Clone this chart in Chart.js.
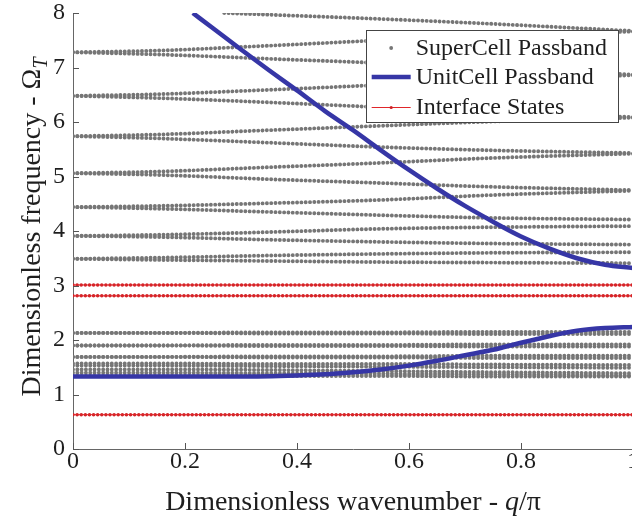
<!DOCTYPE html>
<html>
<head>
<meta charset="utf-8">
<style>
  html, body { margin: 0; padding: 0; background: #fff; overflow: hidden; }
  #wrap { width: 680px; height: 518px; position: relative; }
</style>
<script src="https://cdn.jsdelivr.net/npm/chart.js@4"></script>
</head>
<body>
<div id="wrap"><canvas id="c"></canvas></div>
<script>
// ---- supercell passbands (folded bands, sampled at qGrid) ----
const qGrid = [0, 0.15, 0.35, 0.55, 0.75, 1];

const bandTopQ = [0.27, 0.55, 0.75, 1];
const bandTopW = [8.0, 7.89, 7.80, 7.67];

const bandA_up = [7.28, 7.31, 7.40, 7.50, 7.59, 7.66];
const bandA_dn = [7.28, 7.24, 7.16, 7.08, 6.98, 6.87];
const bandB_up = [6.48, 6.51, 6.59, 6.68, 6.77, 6.86];
const bandB_dn = [6.48, 6.44, 6.36, 6.27, 6.18, 6.09];
const bandC_up = [5.74, 5.77, 5.85, 5.93, 6.01, 6.08];
const bandC_dn = [5.74, 5.70, 5.62, 5.54, 5.48, 5.43];
const bandD_up = [5.06, 5.09, 5.17, 5.25, 5.34, 5.42];
const bandD_dn = [5.06, 5.03, 4.95, 4.88, 4.81, 4.75];
const bandE_up = [4.44, 4.46, 4.51, 4.57, 4.66, 4.74];
const bandE_dn = [4.44, 4.41, 4.35, 4.29, 4.24, 4.21];
const bandF_up = [3.91, 3.93, 3.98, 4.04, 4.07, 4.09];
const bandF_dn = [3.91, 3.89, 3.84, 3.80, 3.77, 3.75];
const bandG_up = [3.49, 3.51, 3.55, 3.58, 3.60, 3.61];
const bandG_dn = [3.49, 3.47, 3.45, 3.43, 3.42, 3.41];

const low1_up = [2.13, 2.13, 2.14, 2.14, 2.15, 2.15];
const low1_dn = [2.13, 2.13, 2.12, 2.12, 2.11, 2.11];
const low2_up = [1.90, 1.90, 1.91, 1.91, 1.92, 1.92];
const low2_dn = [1.90, 1.90, 1.89, 1.89, 1.88, 1.88];
const low3_up = [1.69, 1.69, 1.70, 1.70, 1.71, 1.71];
const low3_dn = [1.69, 1.69, 1.68, 1.68, 1.67, 1.67];
const low4_up = [1.57, 1.57, 1.56, 1.56, 1.55, 1.54];
const low4_dn = [1.53, 1.53, 1.52, 1.51, 1.50, 1.49];
const low5_up = [1.46, 1.46, 1.45, 1.43, 1.41, 1.39];
const low5_dn = [1.40, 1.40, 1.39, 1.38, 1.37, 1.35];
const low6    = [1.34, 1.34, 1.34, 1.34, 1.33, 1.33];

const gridBands = [
  bandA_up, bandA_dn, bandB_up, bandB_dn, bandC_up, bandC_dn, bandD_up, bandD_dn,
  bandE_up, bandE_dn, bandF_up, bandF_dn, bandG_up, bandG_dn,
  low1_up, low1_dn, low2_up, low2_dn, low3_up, low3_dn, low4_up, low4_dn,
  low5_up, low5_dn, low6
];

// ---- unit-cell passband (two branches) ----
const unitLowQ = [0, 0.1, 0.2, 0.3, 0.4, 0.45, 0.5, 0.55, 0.6, 0.65, 0.7, 0.75, 0.8, 0.85, 0.9, 0.95, 1];
const unitLowW = [1.33, 1.33, 1.33, 1.33, 1.35, 1.37, 1.41, 1.46, 1.53, 1.62, 1.72, 1.82, 1.95, 2.07, 2.17, 2.22, 2.24];
const unitHighQ = [0.214, 0.25, 0.3, 0.35, 0.4, 0.45, 0.5, 0.55, 0.6, 0.65, 0.7, 0.75, 0.8, 0.85, 0.9, 0.95, 1];
const unitHighW = [8.0, 7.72, 7.33, 6.95, 6.58, 6.2, 5.85, 5.48, 5.12, 4.78, 4.46, 4.17, 3.9, 3.68, 3.5, 3.38, 3.32];

// ---- interface states (flat) ----
const interfaceQ = [0, 1];
const interfaceLevels = [3.01, 2.81, 0.63];

// ---- axes ----
const xTicks = [0, 0.2, 0.4, 0.6, 0.8, 1];
const xTickLabels = ['0', '0.2', '0.4', '0.6', '0.8', '1'];
const yTicks = [0, 1, 2, 3, 4, 5, 6, 7, 8];
const yTickLabels = ['0', '1', '2', '3', '4', '5', '6', '7', '8'];

const SERIF = '"Liberation Serif", "Times New Roman", serif';
const GRAY = '#767676';
const BLUE = '#3636a6';
const RED = '#e0262a';
const RED_DOT = '#cf2226';

const pts = (qs, ws) => qs.map((q, i) => ({ x: q, y: ws[i] }));

const dotted = (data, label) => ({
  label, data, order: 3,
  borderColor: GRAY, borderWidth: 3.9, borderDash: [0.01, 4.3],
  borderCapStyle: 'round', pointRadius: 0, cubicInterpolationMode: 'monotone',
  fill: false
});

const datasets = [];
datasets.push({
  label: 'UnitCell Passband', data: pts(unitLowQ, unitLowW), order: 0,
  borderColor: BLUE, borderWidth: 4.5, pointRadius: 0, cubicInterpolationMode: 'monotone',
  borderCapStyle: 'butt', fill: false
});
datasets.push({
  label: 'UnitCell Passband', data: pts(unitHighQ, unitHighW), order: 0,
  borderColor: BLUE, borderWidth: 4.5, pointRadius: 0, cubicInterpolationMode: 'monotone',
  borderCapStyle: 'butt', fill: false
});
interfaceLevels.forEach(level => {
  const d = pts(interfaceQ, interfaceQ.map(() => level));
  datasets.push({
    label: 'Interface States', data: d, order: 1,
    borderColor: RED, borderWidth: 1, pointRadius: 0, fill: false
  });
  datasets.push({
    label: 'Interface States', data: d, order: 1,
    borderColor: RED_DOT, borderWidth: 3.5, borderDash: [0.01, 4.1], borderCapStyle: 'round',
    pointRadius: 0, fill: false
  });
});
datasets.push(dotted(pts(bandTopQ, bandTopW), 'SuperCell Passband'));
gridBands.forEach(b => datasets.push(dotted(pts(qGrid, b), 'SuperCell Passband')));

// inward tick marks on both axes
const inwardTicks = {
  id: 'inwardTicks',
  afterDatasetsDraw(chart) {
    const { ctx, chartArea, scales: { x, y } } = chart;
    ctx.save();
    ctx.strokeStyle = '#555';
    ctx.lineWidth = 1;
    xTicks.forEach(v => {
      const px = Math.round(x.getPixelForValue(v)) + 0.5;
      ctx.beginPath(); ctx.moveTo(px, chartArea.bottom); ctx.lineTo(px, chartArea.bottom - 6); ctx.stroke();
    });
    yTicks.forEach(v => {
      const py = Math.round(y.getPixelForValue(v)) + 0.5;
      ctx.beginPath(); ctx.moveTo(chartArea.left, py); ctx.lineTo(chartArea.left + 6, py); ctx.stroke();
    });
    ctx.restore();
  }
};

// draw a run of text pieces with mixed styles
function drawRich(ctx, pieces, cx, cy) {
  const widths = pieces.map(p => { ctx.font = p.font; return ctx.measureText(p.text).width; });
  const total = widths.reduce((a, b) => a + b, 0);
  let xx = cx - total / 2;
  pieces.forEach((p, i) => {
    ctx.font = p.font;
    ctx.fillText(p.text, xx, cy + (p.dy || 0));
    xx += widths[i];
  });
}

// axis titles with italic / subscript parts
const axisTitles = {
  id: 'axisTitles',
  afterDraw(chart) {
    const { ctx, chartArea } = chart;
    ctx.save();
    ctx.fillStyle = '#1e1e1e';
    ctx.textBaseline = 'alphabetic';
    ctx.textAlign = 'left';
    const reg = `28px ${SERIF}`, ital = `italic 28px ${SERIF}`, sub = `italic 20px ${SERIF}`;
    const cx = (chartArea.left + chartArea.right) / 2;
    drawRich(ctx, [
      { text: 'Dimensionless wavenumber - ', font: reg },
      { text: 'q', font: ital },
      { text: '/π', font: reg }
    ], cx, 510);
    ctx.translate(40, 227);
    ctx.rotate(-Math.PI / 2);
    drawRich(ctx, [
      { text: 'Dimensionless frequency - Ω', font: reg },
      { text: 'T', font: sub, dy: 7 }
    ], 0, 0);
    ctx.restore();
  }
};

// boxed legend inside the plot area
const legendBox = {
  id: 'legendBox',
  afterDraw(chart) {
    const { ctx, chartArea } = chart;
    const entries = ['SuperCell Passband', 'UnitCell Passband', 'Interface States'];
    ctx.save();
    ctx.font = `24px ${SERIF}`;
    const textW = Math.max(...entries.map(t => ctx.measureText(t).width));
    const w = 6 + 39 + 5 + textW + 11;
    const h = 92;
    const right = chartArea.right - 15;
    const left = right - w;
    const top = chartArea.top + 17;
    ctx.fillStyle = '#fff';
    ctx.fillRect(left, top, w, h);
    ctx.strokeStyle = '#444';
    ctx.lineWidth = 1;
    ctx.strokeRect(Math.round(left) + 0.5, Math.round(top) + 0.5, Math.round(w), h);
    const rows = [top + 18, top + 47, top + 77];
    const sx0 = left + 6, sx1 = left + 45, sxm = (sx0 + sx1) / 2;
    // supercell marker
    ctx.fillStyle = GRAY;
    ctx.beginPath(); ctx.arc(sxm, rows[0], 1.9, 0, Math.PI * 2); ctx.fill();
    // unitcell line
    ctx.strokeStyle = BLUE; ctx.lineWidth = 4.5;
    ctx.beginPath(); ctx.moveTo(sx0, rows[1]); ctx.lineTo(sx1, rows[1]); ctx.stroke();
    // interface line with marker
    ctx.strokeStyle = RED; ctx.lineWidth = 1;
    ctx.beginPath(); ctx.moveTo(sx0, rows[2] + 0.5); ctx.lineTo(sx1, rows[2] + 0.5); ctx.stroke();
    ctx.fillStyle = RED_DOT;
    ctx.beginPath(); ctx.arc(sxm, rows[2] + 0.5, 1.6, 0, Math.PI * 2); ctx.fill();
    ctx.fillStyle = '#1e1e1e';
    ctx.textBaseline = 'middle';
    ctx.textAlign = 'left';
    entries.forEach((t, i) => ctx.fillText(t, left + 50, rows[i] + 1));
    ctx.restore();
  }
};

new Chart(document.getElementById('c'), {
  type: 'line',
  data: { datasets },
  plugins: [inwardTicks, axisTitles, legendBox],
  options: {
    responsive: true,
    maintainAspectRatio: false,
    animation: false,
    events: [],
    layout: { padding: { left: 0, top: 13, right: 47, bottom: 0 } },
    plugins: { legend: { display: false }, tooltip: { enabled: false } },
    scales: {
      x: {
        type: 'linear', min: 0, max: 1,
        afterBuildTicks: s => { s.ticks = xTicks.map(v => ({ value: v })); },
        afterFit: s => { s.height = 69; s.paddingLeft = 0; s.paddingRight = 0; },
        grid: { display: false, drawTicks: false },
        border: { display: true, color: '#666', width: 1 },
        ticks: {
          padding: 1, color: '#1e1e1e', maxRotation: 0, autoSkip: false,
          font: { family: SERIF, size: 24, lineHeight: 1 },
          callback: (v, i) => xTickLabels[i]
        }
      },
      y: {
        type: 'linear', min: 0, max: 8,
        afterBuildTicks: s => { s.ticks = yTicks.map(v => ({ value: v })); },
        afterFit: s => { s.width = 73; s.paddingTop = 0; s.paddingBottom = 0; },
        grid: { display: false, drawTicks: false },
        border: { display: true, color: '#666', width: 1 },
        ticks: {
          padding: 8, color: '#1e1e1e', autoSkip: false,
          font: { family: SERIF, size: 24, lineHeight: 1 },
          callback: (v, i) => yTickLabels[i]
        }
      }
    }
  }
});
</script>
</body>
</html>
